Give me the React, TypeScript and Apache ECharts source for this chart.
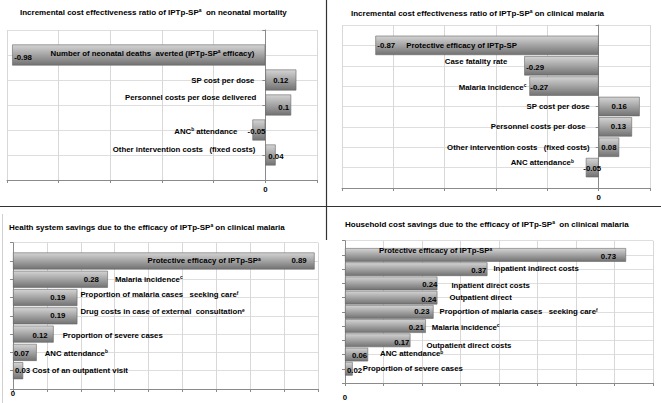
import React, { useEffect, useRef } from 'react';
import * as echarts from 'echarts';

// ---------- data ----------
const neoTitle = 'Incremental cost effectiveness ratio of IPTp-SP^a  on neonatal mortality';
const neoCategories = [
  'Number of neonatal deaths  averted (IPTp-SP^a efficacy)',
  'SP cost per dose',
  'Personnel costs per dose delivered',
  'ANC^b attendance',
  'Other intervention costs   (fixed costs)',
];
const neoValues = [-0.98, 0.12, 0.1, -0.05, 0.04];

const malTitle = 'Incremental cost effectiveness ratio of IPTp-SP^a on clinical malaria';
const malCategories = [
  'Protective efficacy of IPTp-SP',
  'Case fatality rate',
  'Malaria incidence^c',
  'SP cost per dose',
  'Personnel costs per dose',
  'Other intervention costs   (fixed costs)',
  'ANC attendance^b',
];
const malValues = [-0.87, -0.29, -0.27, 0.16, 0.13, 0.08, -0.05];

const hsTitle = 'Health system savings due to the efficacy of IPTp-SP^a on clinical malaria';
const hsCategories = [
  'Protective efficacy of IPTp-SP^a',
  'Malaria incidence^c',
  'Proportion of malaria cases   seeking care^f',
  'Drug costs in case of external  consultation^e',
  'Proportion of severe cases',
  'ANC attendance^b',
  'Cost of an outpatient visit',
];
const hsValues = [0.89, 0.28, 0.19, 0.19, 0.12, 0.07, 0.03];

const hhTitle = 'Household cost savings due to the efficacy of IPTp-SP^a  on clinical malaria';
const hhCategories = [
  'Protective efficacy of IPTp-SP^a',
  'Inpatient indirect costs',
  'Inpatient direct costs',
  'Outpatient direct',
  'Proportion of malaria cases   seeking care^f',
  'Malaria incidence^c',
  'Outpatient direct costs',
  'ANC attendance^b',
  'Proportion of severe cases',
];
const hhValues = [0.73, 0.37, 0.24, 0.24, 0.23, 0.21, 0.17, 0.06, 0.02];

const zeroTickLabel = '0';

// ---------- label layout (style, not data) ----------
type L = [string, number, number];
const neoValueLayout: L[] = [['insideLeft', 2, 2], ['insideRight', 8, 0], ['insideRight', 2, 2], ['insideRight', 0, 1], ['insideLeft', 3, 1]];
const neoNameLayout: L[] = [['insideRight', 11, -2], ['left', 11, 0], ['left', 9, -8], ['left', 15, 1], ['left', 10, -6]];
const malValueLayout: L[] = [['insideLeft', 2, 0], ['insideLeft', 2, 2], ['insideLeft', 1, 1], ['inside', 0, 0], ['insideRight', 6, 0], ['inside', 0, 0], ['inside', 0, 1]];
const malNameLayout: L[] = [['insideLeft', 31, 0], ['left', 17, -4], ['left', 3, 1], ['left', 9, 0], ['left', 13, 0], ['left', 9, 0], ['left', 12, -5]];
const hsValueLayout: L[] = [['insideRight', 8, 0], ['insideRight', 9, 0], ['insideRight', 12, 0], ['insideRight', 12, 0], ['insideRight', 6, 1], ['insideLeft', 1, 1], ['insideLeft', 2, 0]];
const hsNameLayout: L[] = [['insideRight', 54, 0], ['right', 7, 0], ['right', 3, -3], ['right', 3, -4], ['right', 9, 1], ['right', 8, 1], ['right', 9, 0]];
const hhValueLayout: L[] = [['insideRight', 10, 2], ['insideRight', 1, 1], ['insideRight', 0, 1], ['insideRight', 1, 2], ['insideRight', 4, 0], ['insideRight', 2, 1], ['insideRight', 1, 2], ['insideRight', 1, 1], ['insideLeft', 2, 2]];
const hhNameLayout: L[] = [['insideLeft', 34, -4], ['right', 6, -1], ['right', 14, 2], ['right', 12, 0], ['right', 6, 0], ['right', 6, 1], ['right', 16, 5], ['right', 12, -1], ['right', 10, 0]];

const FONT = '"Liberation Sans", Arial, Helvetica, sans-serif';
const LABEL_SIZE = 7.8;
const TITLE_SIZE = 8;

function toRich(s: string): string {
  const parts = s.split(/\^(\w)/);
  return parts.map((p, i) => (i % 2 ? `{s|${p}}` : p ? `{n|${p}}` : '')).join('');
}

function makeRich(size: number): any {
  return {
    n: { fontSize: size, fontWeight: 'bold', fontFamily: FONT, color: '#000', lineHeight: 8 },
    s: { fontSize: size * 0.62, fontWeight: 'bold', fontFamily: FONT, color: '#000', lineHeight: 5, verticalAlign: 'top' },
  };
}
const labelRich = makeRich(LABEL_SIZE);
const titleRich = makeRich(TITLE_SIZE);

const barColor = new echarts.graphic.LinearGradient(0, 0, 0, 1, [
  { offset: 0, color: '#d4d4d4' },
  { offset: 0.4, color: '#adadad' },
  { offset: 1, color: '#727272' },
]);

const panels = [
  { title: neoTitle, titlePos: [20, 8], cats: neoCategories, vals: neoValues, vLay: neoValueLayout, nLay: neoNameLayout,
    min: -1, max: 0.2, interval: 0.2, box: [7, 30, 310, 150], gap: '16%', labelMargin: 5 },
  { title: malTitle, titlePos: [351, 9], cats: malCategories, vals: malValues, vLay: malValueLayout, nLay: malNameLayout,
    min: -1, max: 0.2, interval: 0.2, box: [342, 25, 308, 163], gap: '5%', labelMargin: 5 },
  { title: hsTitle, titlePos: [9, 223], cats: hsCategories, vals: hsValues, vLay: hsValueLayout, nLay: hsNameLayout,
    min: 0, max: 0.9, interval: 0.1, box: [13, 242.7, 305, 146.3], gap: '7%', labelMargin: 0.5 },
  { title: hhTitle, titlePos: [345, 220], cats: hhCategories, vals: hhValues, vLay: hhValueLayout, nLay: hhNameLayout,
    min: 0, max: 0.8, interval: 0.1, box: [345, 240.7, 308, 142.3], gap: '4%', labelMargin: 10 },
];

function buildOption(): any {
  const grid: any[] = [];
  const xAxis: any[] = [];
  const yAxis: any[] = [];
  const series: any[] = [];
  const title: any[] = [];

  panels.forEach((p, k) => {
    const [left, top, width, height] = p.box;
    const n = p.cats.length;
    const band = height / (n + 1);
    const gf = 2 * k;
    const gb = 2 * k + 1;
    grid.push({ left, top, width, height, outerBoundsMode: 'none', containLabel: false });
    grid.push({ left, top: top + band / 2, width, height: band * n, outerBoundsMode: 'none', containLabel: false });

    title.push({
      text: toRich(p.title),
      left: p.titlePos[0],
      top: p.titlePos[1],
      padding: 0,
      textStyle: { rich: titleRich, fontSize: TITLE_SIZE, fontWeight: 'bold', fontFamily: FONT, color: '#000' },
    });

    // frame axes
    xAxis.push({
      type: 'value', gridIndex: gf, min: p.min, max: p.max, interval: p.interval,
      axisLine: { show: true, onZero: false, lineStyle: { color: '#8a8a8a', width: 1 } },
      axisTick: { show: true, length: 3, lineStyle: { color: '#8a8a8a' } },
      splitLine: { show: true, lineStyle: { color: '#d8d8d8', width: 1 } },
      axisLabel: {
        show: true, margin: p.labelMargin, color: '#000', fontSize: LABEL_SIZE, fontWeight: 'bold', fontFamily: FONT,
        formatter: (v: number) => (Math.abs(v) < 1e-9 ? zeroTickLabel : ''),
      },
    });
    yAxis.push({
      type: 'value', gridIndex: gf, min: 0, max: n + 1, interval: 1,
      axisLine: { show: true, lineStyle: { color: '#8a8a8a', width: 1 } },
      axisTick: { show: true, length: 3, lineStyle: { color: '#8a8a8a' } },
      splitLine: { show: true, lineStyle: { color: '#dedede', width: 1 } },
      axisLabel: { show: false },
    });
    // bar axes
    xAxis.push({
      type: 'value', gridIndex: gb, min: p.min, max: p.max, interval: p.interval,
      axisLine: { show: false }, axisTick: { show: false }, splitLine: { show: false }, axisLabel: { show: false },
    });
    yAxis.push({
      type: 'category', gridIndex: gb, data: p.cats, inverse: true,
      axisLine: { show: false }, axisTick: { show: false }, splitLine: { show: false }, axisLabel: { show: false },
    });

    series.push({
      type: 'bar', xAxisIndex: gb, yAxisIndex: gb, barCategoryGap: p.gap, barGap: '-100%',
      itemStyle: { color: barColor, borderColor: '#666666', borderWidth: 0.6 },
      data: p.vals.map((v, i) => ({
        value: v,
        label: {
          show: true,
          position: p.vLay[i][0], distance: p.vLay[i][1], offset: [0, p.vLay[i][2]],
          formatter: String(v),
          color: '#000', fontSize: LABEL_SIZE, fontWeight: 'bold', fontFamily: FONT,
        },
      })),
      silent: true, z: 2,
    });
    series.push({
      type: 'bar', xAxisIndex: gb, yAxisIndex: gb, barCategoryGap: p.gap, barGap: '-100%',
      itemStyle: { color: 'rgba(0,0,0,0)' },
      data: p.vals.map((v, i) => ({
        value: v,
        label: {
          show: true,
          position: p.nLay[i][0], distance: p.nLay[i][1], offset: [0, p.nLay[i][2]],
          formatter: toRich(p.cats[i]),
          rich: labelRich,
        },
      })),
      silent: true, z: 3,
    });
  });

  return {
    animation: false,
    backgroundColor: '#ffffff',
    title,
    grid,
    xAxis,
    yAxis,
    series,
    graphic: [
      { type: 'line', shape: { x1: 326.5, y1: 0, x2: 326.5, y2: 240 }, style: { stroke: '#333', lineWidth: 1.2 } },
      { type: 'line', shape: { x1: 0, y1: 206.5, x2: 661, y2: 206.5 }, style: { stroke: '#333', lineWidth: 1.2 } },
      { type: 'line', shape: { x1: 2.5, y1: 214, x2: 2.5, y2: 403 }, style: { stroke: '#d0d0d0', lineWidth: 1 } },
    ],
  };
}

export default function App() {
  const ref = useRef<HTMLDivElement>(null);
  useEffect(() => {
    document.body.style.margin = '0';
    if (!ref.current) return;
    const chart = echarts.init(ref.current, undefined, { renderer: 'svg' });
    chart.setOption(buildOption());
    return () => chart.dispose();
  }, []);
  return <div ref={ref} style={{ width: 661, height: 403 }} />;
}
